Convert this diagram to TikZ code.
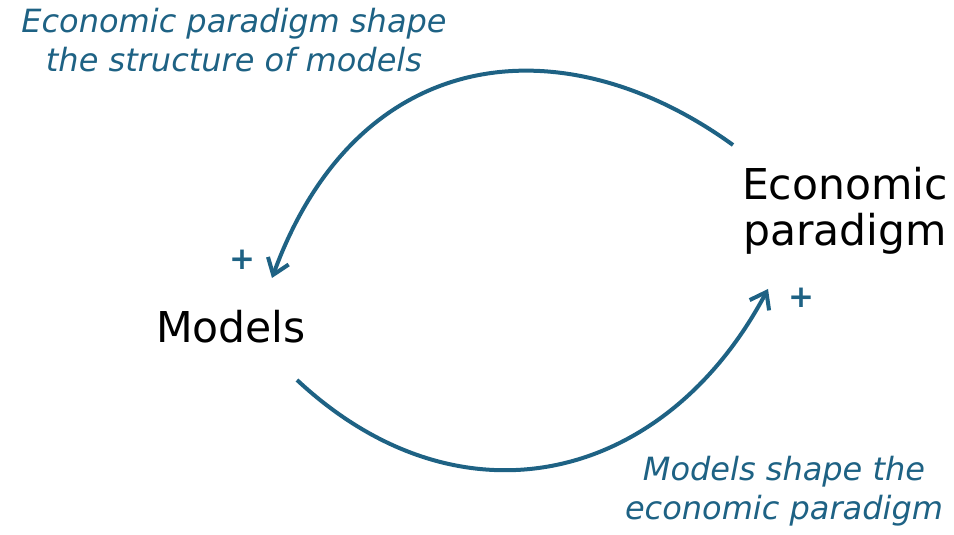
\documentclass[tikz,border=0pt]{standalone}
\usepackage{fontspec}
\setmainfont{DejaVu Sans}
\usetikzlibrary{arrows.meta}
\definecolor{teal1}{RGB}{30,98,132}
\tikzset{
  loopline/.style={draw=teal1, line width=4pt, -{Straight Barb[length=15pt,width=22pt,line width=4pt]}},
  varlabel/.style={text=black, font=\fontsize{42.5}{46}\selectfont, align=center, inner sep=0pt},
  linklabel/.style={text=teal1, font=\fontsize{32}{39}\selectfont\itshape, align=center, inner sep=0pt},
  polarity/.style={text=teal1, font=\fontsize{31}{31}\selectfont\bfseries, inner sep=0pt}
}
\begin{document}
\begin{tikzpicture}[x=1pt,y=1pt]
\useasboundingbox (0,0) rectangle (954,535);
\node[varlabel, anchor=base] (econ) at (845,289) {Economic\\paradigm};
\node[varlabel, anchor=base] (models) at (231,192) {Models};
\node[linklabel, anchor=base] (lab1) at (234,463) {Economic paradigm shape\\the structure of models};
\node[linklabel, anchor=base] (lab2) at (784,15) {Models shape the\\economic paradigm};
\node[polarity] (p1) at (242,275) {+};
\node[polarity] (p2) at (801,237) {+};
\coordinate (s1) at (733,390);
\coordinate (e1) at (272,257);
\coordinate (s2) at (297,155);
\coordinate (e2) at (768,246);
\draw[loopline] (s1) .. controls +(-170,123) and +(86,235) .. (e1);
\draw[loopline] (s2) .. controls +(164,-153) and +(-103,-194) .. (e2);
\end{tikzpicture}
\end{document}
